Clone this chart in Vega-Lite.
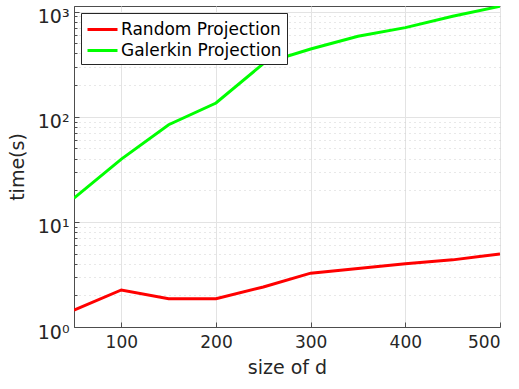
{
  "$schema": "https://vega.github.io/schema/vega-lite/v6.json",
  "autosize": "none",
  "width": 426,
  "height": 321,
  "padding": {"left": 74, "top": 6, "right": 19, "bottom": 62},
  "background": "white",
  "config": {
    "view": {"stroke": "#4d4d4d", "strokeWidth": 1},
    "font": "DejaVu Sans"
  },
  "data": {
    "values": [
      {"d": 50, "time": 1.45, "method": "Random Projection"},
      {"d": 100, "time": 2.25, "method": "Random Projection"},
      {"d": 150, "time": 1.86, "method": "Random Projection"},
      {"d": 200, "time": 1.86, "method": "Random Projection"},
      {"d": 250, "time": 2.4, "method": "Random Projection"},
      {"d": 300, "time": 3.25, "method": "Random Projection"},
      {"d": 350, "time": 3.6, "method": "Random Projection"},
      {"d": 400, "time": 4.0, "method": "Random Projection"},
      {"d": 450, "time": 4.35, "method": "Random Projection"},
      {"d": 500, "time": 4.96, "method": "Random Projection"},
      {"d": 50, "time": 16.8, "method": "Galerkin Projection"},
      {"d": 100, "time": 39.5, "method": "Galerkin Projection"},
      {"d": 150, "time": 84, "method": "Galerkin Projection"},
      {"d": 200, "time": 135, "method": "Galerkin Projection"},
      {"d": 250, "time": 320, "method": "Galerkin Projection"},
      {"d": 300, "time": 441, "method": "Galerkin Projection"},
      {"d": 350, "time": 582, "method": "Galerkin Projection"},
      {"d": 400, "time": 704, "method": "Galerkin Projection"},
      {"d": 450, "time": 902, "method": "Galerkin Projection"},
      {"d": 500, "time": 1122, "method": "Galerkin Projection"}
    ]
  },
  "mark": {"type": "line", "strokeWidth": 3, "clip": true},
  "encoding": {
    "x": {
      "field": "d",
      "type": "quantitative",
      "scale": {"domain": [50, 500], "nice": false, "zero": false},
      "axis": {
        "values": [100, 200, 300, 400, 500],
        "title": "size of d",
        "titleFontSize": 19,
        "titleFontWeight": "normal",
        "titleColor": "#262626",
        "titlePadding": 8,
        "labelFontSize": 17,
        "labelColor": "#262626",
        "labelPadding": 12,
        "tickSize": -5,
        "tickColor": "#4d4d4d",
        "domainColor": "#4d4d4d",
        "grid": true,
        "gridColor": "#e3e3e3",
        "gridWidth": 1
      }
    },
    "y": {
      "field": "time",
      "type": "quantitative",
      "scale": {"type": "log", "domain": [1, 1130], "nice": false},
      "axis": {
        "values": [1, 2, 3, 4, 5, 6, 7, 8, 9, 10, 20, 30, 40, 50, 60, 70, 80, 90, 100, 200, 300, 400, 500, 600, 700, 800, 900, 1000],
        "labelExpr": "datum.value == 1 ? '10⁰' : datum.value == 10 ? '10¹' : datum.value == 100 ? '10²' : datum.value == 1000 ? '10³' : ''",
        "title": "time(s)",
        "titleFontSize": 19,
        "titleFontWeight": "normal",
        "titleColor": "#262626",
        "titlePadding": 10,
        "labelFontSize": 19,
        "labelColor": "#262626",
        "labelPadding": 10,
        "labelBaseline": "top",
        "labelOffset": -4,
        "tickColor": "#4d4d4d",
        "tickSize": {"condition": {"test": "datum.value == 1 || datum.value == 10 || datum.value == 100 || datum.value == 1000", "value": -5}, "value": -3},
        "domainColor": "#4d4d4d",
        "grid": true,
        "gridColor": {"condition": {"test": "datum.value == 1 || datum.value == 10 || datum.value == 100 || datum.value == 1000", "value": "#e3e3e3"}, "value": "#d0d0d0"},
        "gridDash": {"condition": {"test": "datum.value == 1 || datum.value == 10 || datum.value == 100 || datum.value == 1000", "value": []}, "value": [1, 4]}
      }
    },
    "color": {
      "field": "method",
      "type": "nominal",
      "sort": ["Random Projection", "Galerkin Projection"],
      "scale": {"domain": ["Random Projection", "Galerkin Projection"], "range": ["#ff0000", "#00ff00"]},
      "legend": {
        "title": null,
        "orient": "none",
        "legendX": 7,
        "legendY": 7,
        "symbolType": "M-1.5,0H1.5",
        "symbolSize": 400,
        "symbolStrokeWidth": 3,
        "symbolOffset": 5,
        "labelFontSize": 17,
        "labelColor": "#000000",
        "labelLimit": 300,
        "rowPadding": 1,
        "padding": 5,
        "strokeColor": "#262626",
        "fillColor": "white",
        "labelOffset": 7
      }
    }
  }
}
